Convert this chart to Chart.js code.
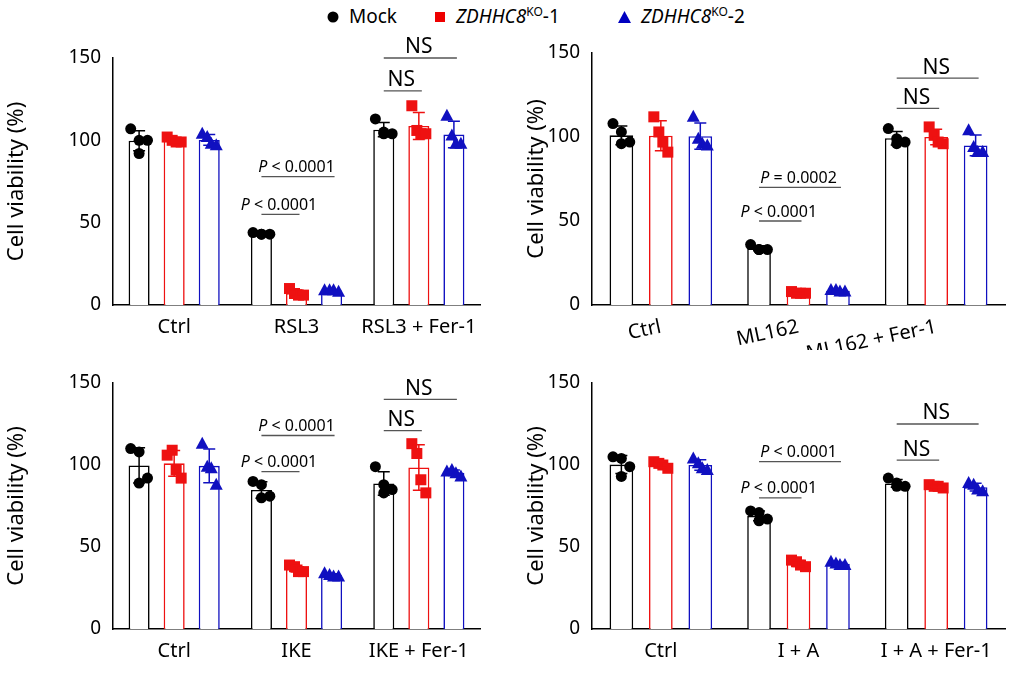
<!DOCTYPE html>
<html><head><meta charset="utf-8">
<script src="https://cdn.jsdelivr.net/npm/chart.js@4"></script>
<style>
body{margin:0;background:#fff;width:1013px;height:679px;position:relative;overflow:hidden;font-family:"Noto Sans",Arial,sans-serif}
.p{position:absolute}
#legend{position:absolute;top:1px;left:0;width:1013px;height:28px;font-size:19px;color:#000}
#legend span{position:absolute;top:2px;white-space:nowrap}
sup{font-size:12px;vertical-align:7px}
</style></head><body>
<div id="legend">
<span style="left:327px"><svg width="12" height="12"><circle cx="6" cy="6" r="5.5" fill="#000"/></svg></span>
<span style="left:349px">Mock</span>
<span style="left:434px"><svg width="12" height="12"><rect x="1" y="1" width="10" height="10" fill="#e00"/></svg></span>
<span style="left:456px"><i>ZDHHC8</i><sup>KO</sup>-1</span>
<span style="left:618px"><svg width="13" height="12"><polygon points="6.5,0 13,12 0,12" fill="#0000c0"/></svg></span>
<span style="left:641px"><i>ZDHHC8</i><sup>KO</sup>-2</span>
</div>
<div class="p" style="left:0;top:0;width:490px;height:350px"><canvas id="c1"></canvas></div>
<div class="p" style="left:520px;top:0;width:493px;height:350px"><canvas id="c2"></canvas></div>
<div class="p" style="left:0;top:350px;width:490px;height:329px"><canvas id="c3"></canvas></div>
<div class="p" style="left:520px;top:350px;width:493px;height:329px"><canvas id="c4"></canvas></div>
<script>
const seriesNames = ['Mock','ZDHHC8KO-1','ZDHHC8KO-2'];
const colors = ['#000000','#ee1111','#1010c0'];
const cats1 = ['Ctrl','RSL3','RSL3 + Fer-1'];
const cats2 = ['Ctrl','ML162','ML162 + Fer-1'];
const cats3 = ['Ctrl','IKE','IKE + Fer-1'];
const cats4 = ['Ctrl','I + A','I + A + Fer-1'];
const yTicks = [0,50,100,150];
// replicate points per [category][series]
const pts1 = [[[107,100,100,92],[102,100,99,99],[104,102,98,97]],
              [[44,43,43,43],[10,7,6,6],[9,9,9,8]],
              [[113,105,104,104],[121,106,104,104],[115,103,98,98]]];
const pts2 = [[[108,103,97,96],[112,103,97,91],[112,99,96,95]],
              [[36,33,33,33],[8,7,7,7],[9,9,8,8]],
              [[105,99,97,96],[106,101,97,96],[104,94,91,91]]];
const pts3 = [[[110,108,92,89],[106,109,97,92],[113,99,98,88]],
              [[90,88,81,80],[39,38,35,35],[34,33,32,32]],
              [[99,88,85,83],[113,107,91,83],[96,97,95,93]]];
const pts4 = [[[105,104,99,93],[102,101,100,98],[104,101,98,97]],
              [[72,71,67,66],[42,41,39,38],[41,40,39,39]],
              [[92,89,87,87],[88,87,87,86],[89,88,85,84]]];
// brackets: [category, fromSeries, toSeries, y, label]
const br1 = [[1,0,1,55,'P < 0.0001'],[1,0,2,78,'P < 0.0001'],[2,0,1,130,'NS'],[2,0,2,150,'NS']];
const br2 = [[1,0,1,50,'P < 0.0001'],[1,0,2,70,'P = 0.0002'],[2,0,1,117,'NS'],[2,0,2,135,'NS']];
const br3 = [[1,0,1,96,'P < 0.0001'],[1,0,2,118,'P < 0.0001'],[2,0,1,121,'NS'],[2,0,2,140,'NS']];
const br4 = [[1,0,1,80,'P < 0.0001'],[1,0,2,102,'P < 0.0001'],[2,0,1,103,'NS'],[2,0,2,125,'NS']];

const jitter = [[-7,0,7,0],[-7,-2,2,7],[-7,-2,2,7]];
const FONT = '"Noto Sans", Arial, sans-serif';
function mean(a){return a.reduce((s,v)=>s+v,0)/a.length;}
function sd(a){const m=mean(a);return Math.sqrt(a.reduce((s,v)=>s+(v-m)*(v-m),0)/(a.length-1));}

function shape(ctx,s,x,y){
  ctx.fillStyle=colors[s];
  ctx.beginPath();
  if(s===0){ctx.arc(x,y,5.5,0,Math.PI*2);}
  else if(s===1){ctx.rect(x-5.5,y-5.5,11,11);}
  else {ctx.moveTo(x,y-7);ctx.lineTo(x+6.5,y+5);ctx.lineTo(x-6.5,y+5);ctx.closePath();}
  ctx.fill();
}

function make(id,cats,pts,brs,yw,xh,padT,padR){
  const datasets = [0,1,2].map(s=>({
    label:seriesNames[s],
    data:cats.map((c,i)=>mean(pts[i][s])),
    backgroundColor:'#ffffff',borderColor:colors[s],borderWidth:1.6,
    barPercentage:0.6,categoryPercentage:0.86
  }));
  const overlay={id:'ov',afterDatasetsDraw(chart){
    const ctx=chart.ctx, y=chart.scales.y;
    ctx.save();
    for(let s=0;s<3;s++){
      const meta=chart.getDatasetMeta(s);
      meta.data.forEach((bar,i)=>{
        const m=mean(pts[i][s]), d=sd(pts[i][s]);
        pts[i][s].forEach((v,k)=>shape(ctx,s,bar.x+jitter[s][k]*(s===0?1.2:1),y.getPixelForValue(v)));
        ctx.strokeStyle=colors[s];ctx.lineWidth=1.5;
        ctx.beginPath();
        ctx.moveTo(bar.x,y.getPixelForValue(m-d));ctx.lineTo(bar.x,y.getPixelForValue(m+d));
        ctx.moveTo(bar.x-6,y.getPixelForValue(m-d));ctx.lineTo(bar.x+6,y.getPixelForValue(m-d));
        ctx.moveTo(bar.x-6,y.getPixelForValue(m+d));ctx.lineTo(bar.x+6,y.getPixelForValue(m+d));
        ctx.stroke();
      });
    }
    ctx.strokeStyle='#555';ctx.lineWidth=1.3;ctx.fillStyle='#000';
    brs.forEach(b=>{
      const x1=chart.getDatasetMeta(b[1]).data[b[0]].x, x2=chart.getDatasetMeta(b[2]).data[b[0]].x;
      const py=y.getPixelForValue(b[3]);
      ctx.beginPath();ctx.moveTo(x1,py);ctx.lineTo(x2+3,py);ctx.stroke();
      const cx=(x1+x2)/2;
      ctx.textBaseline='bottom';
      if(b[4]==='NS'){ctx.font='21px '+FONT;ctx.textAlign='center';ctx.fillText('NS',cx,py);}
      else{
        const rest=b[4].slice(1);
        ctx.font='italic 16px '+FONT;const wp=ctx.measureText('P').width;
        ctx.font='16px '+FONT;const wr=ctx.measureText(rest).width;
        let sx=cx-(wp+wr)/2;
        ctx.textAlign='left';
        ctx.font='italic 16px '+FONT;ctx.fillText('P',sx,py-1);
        ctx.font='16px '+FONT;ctx.fillText(rest,sx+wp,py-1);
      }
    });
    ctx.restore();
  }};
  new Chart(document.getElementById(id),{
    type:'bar',
    data:{labels:cats,datasets},
    plugins:[overlay],
    options:{
      responsive:true,maintainAspectRatio:false,animation:false,
      layout:{padding:{top:padT,right:padR,left:0,bottom:0}},
      plugins:{legend:{display:false},tooltip:{enabled:false}},
      scales:{
        x:{grid:{display:false,drawTicks:true,tickLength:8,tickColor:'#000'},
           border:{color:'#000',width:1.5},
           ticks:{color:'#000',font:{size:20,family:FONT},padding:2},
           afterFit(sc){sc.height=xh;}},
        y:{min:0,max:150,
           afterBuildTicks(sc){sc.ticks=yTicks.map(v=>({value:v}));},
           grid:{display:false,drawTicks:true,tickLength:8,tickColor:'#000'},
           border:{color:'#000',width:1.5},
           ticks:{color:'#000',font:{size:19,family:FONT},padding:4},
           title:{display:true,text:'Cell viability (%)',color:'#000',font:{size:22,family:FONT},padding:{top:4,bottom:2}},
           afterFit(sc){sc.width=yw;}}
      }
    }
  });
}
make('c1',cats1,pts1,br1,113,45,58,10);
make('c2',cats2,pts2,br2,72,45,53,8);
make('c3',cats3,pts3,br3,113,50,33,10);
make('c4',cats4,pts4,br4,72,50,33,8);
</script>
</body></html>
